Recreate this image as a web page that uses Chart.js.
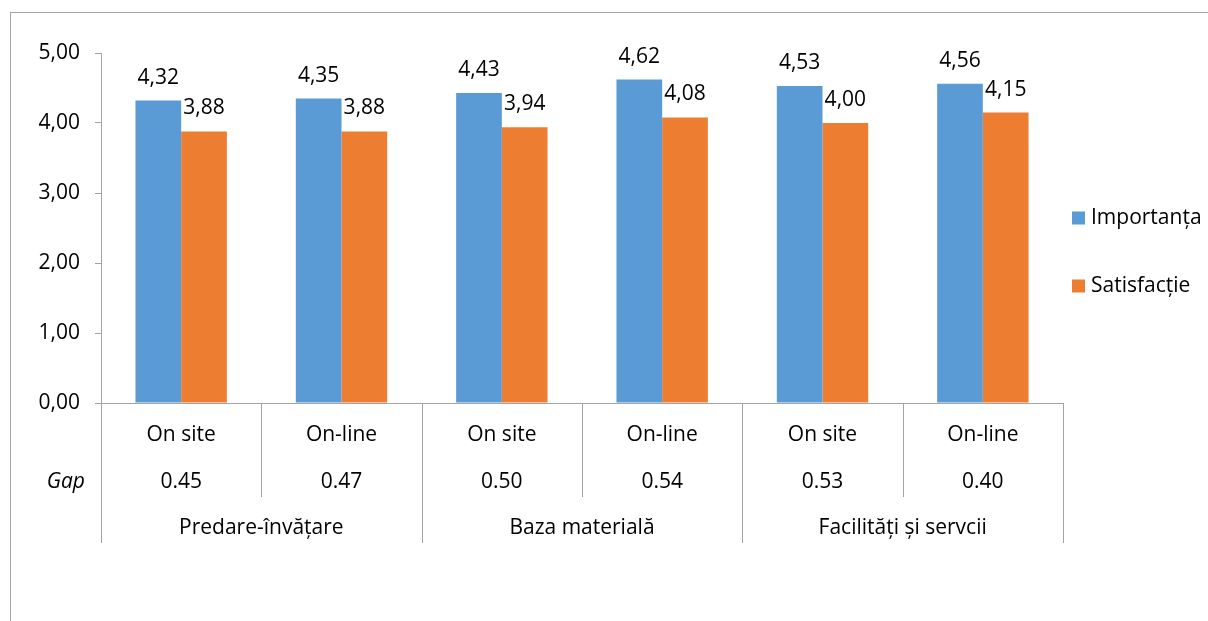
<!DOCTYPE html>
<html lang="ro">
<head>
<meta charset="utf-8">
<title>Importanța și satisfacția</title>
<script src="https://cdn.jsdelivr.net/npm/chart.js@4/dist/chart.umd.min.js"></script>
<style>
  html, body { margin: 0; padding: 0; background: #fff; overflow: hidden; }
  .frame {
    position: absolute; left: 10px; top: 12px; width: 1400px; height: 800px;
    border: 1px solid #a3a3a3; box-sizing: border-box;
  }
  #chart { position: absolute; left: 0; top: 0; }
</style>
</head>
<body>
<div class="frame"></div>
<canvas id="chart" width="1208" height="621"></canvas>
<script>
// Categories: survey mode per domain, with the gap between the two scores
const modes = ['On site', 'On-line', 'On site', 'On-line', 'On site', 'On-line'];
const gapValues = ['0.45', '0.47', '0.50', '0.54', '0.53', '0.40'];
const domains = ['Predare-învățare', 'Baza materială', 'Facilități și servcii'];

// Series
const importanta = [4.32, 4.35, 4.43, 4.62, 4.53, 4.56];
const satisfactie = [3.88, 3.88, 3.94, 4.08, 4.00, 4.15];
const seriesNames = ['Importanța', 'Satisfacție'];

// Value axis
const yTicks = [0, 1, 2, 3, 4, 5];

const FONT = '"Open Sans", "DejaVu Sans", sans-serif';
const FONT_SIZE = 21;
const AXIS_GRAY = '#a3a3a3';
const BLUE = '#5b9bd5';
const ORANGE = '#ed7d31';

const fmt = v => Number(v).toFixed(2).replace('.', ',');

Chart.defaults.font.family = FONT;
Chart.defaults.font.size = FONT_SIZE;
Chart.defaults.color = '#000';

// Value labels above each bar
const valueLabels = {
  id: 'valueLabels',
  afterDatasetsDraw(chart) {
    const ctx = chart.ctx;
    ctx.save();
    ctx.font = FONT_SIZE + 'px ' + FONT;
    ctx.fillStyle = '#000';
    ctx.textAlign = 'center';
    ctx.textBaseline = 'alphabetic';
    chart.data.datasets.forEach((ds, di) => {
      const meta = chart.getDatasetMeta(di);
      meta.data.forEach((el, i) => {
        ctx.fillText(fmt(ds.data[i]), el.x, el.y - 17);
      });
    });
    ctx.restore();
  }
};

// Category separators, domain row, "Gap" row title and the legend
const axisDecor = {
  id: 'axisDecor',
  afterDraw(chart) {
    const ctx = chart.ctx;
    const xs = chart.scales.x;
    const area = chart.chartArea;
    const n = modes.length;
    const half = (xs.getPixelForValue(1) - xs.getPixelForValue(0)) / 2;
    const axisY = area.bottom;
    const shortEnd = axisY + 94;
    const longEnd = axisY + 140;

    ctx.save();
    ctx.strokeStyle = AXIS_GRAY;
    ctx.lineWidth = 1;
    for (let i = 0; i <= n; i++) {
      const x = Math.round((i < n ? xs.getPixelForValue(i) - half : xs.getPixelForValue(n - 1) + half)) + 0.5;
      ctx.beginPath();
      ctx.moveTo(x, axisY);
      ctx.lineTo(x, i % 2 === 0 ? longEnd : shortEnd);
      ctx.stroke();
    }

    ctx.fillStyle = '#000';
    ctx.textBaseline = 'middle';
    ctx.textAlign = 'center';
    ctx.font = FONT_SIZE + 'px ' + FONT;
    domains.forEach((d, k) => {
      const cx = (xs.getPixelForValue(2 * k) + xs.getPixelForValue(2 * k + 1)) / 2;
      ctx.fillText(d, cx, axisY + 125);
    });

    ctx.textAlign = 'right';
    ctx.font = 'italic ' + FONT_SIZE + 'px ' + FONT;
    ctx.fillText('Gap', area.left - 16, axisY + 79);

    // legend
    ctx.font = FONT_SIZE + 'px ' + FONT;
    ctx.textAlign = 'left';
    const legendX = area.right + 9;
    const legendRows = [218, 286];
    chart.data.datasets.forEach((ds, di) => {
      const cy = legendRows[di];
      ctx.fillStyle = ds.backgroundColor;
      ctx.fillRect(legendX, cy - 6.5, 13, 13);
      ctx.fillStyle = '#000';
      ctx.fillText(ds.label, legendX + 19, cy);
    });
    ctx.restore();
  }
};

new Chart(document.getElementById('chart'), {
  type: 'bar',
  data: {
    labels: modes.map((m, i) => [m, gapValues[i]]),
    datasets: [
      { label: seriesNames[0], data: importanta, backgroundColor: BLUE,
        categoryPercentage: 0.57, barPercentage: 1.0 },
      { label: seriesNames[1], data: satisfactie, backgroundColor: ORANGE,
        categoryPercentage: 0.57, barPercentage: 1.0 }
    ]
  },
  options: {
    responsive: false,
    animation: false,
    devicePixelRatio: 1,
    layout: { padding: { left: 0, top: 53, right: 145, bottom: 0 } },
    plugins: {
      legend: { display: false },
      tooltip: { enabled: false }
    },
    scales: {
      x: {
        grid: { display: true, drawOnChartArea: false, drawTicks: false, offset: true, color: AXIS_GRAY },
        border: { display: true, color: AXIS_GRAY, width: 1 },
        ticks: {
          autoSkip: false, maxRotation: 0, minRotation: 0,
          padding: 8.5,
          font: { size: FONT_SIZE, lineHeight: '47px' },
          color: '#000'
        },
        afterFit(scale) { scale.height = 621 - 403; }
      },
      y: {
        min: yTicks[0],
        max: yTicks[yTicks.length - 1],
        afterBuildTicks(scale) { scale.ticks = yTicks.map(v => ({ value: v })); },
        grid: { display: true, drawOnChartArea: false, drawTicks: true, tickLength: 6, color: AXIS_GRAY },
        border: { display: true, color: AXIS_GRAY, width: 1 },
        ticks: {
          padding: 15,
          color: '#000',
          callback: v => fmt(v)
        },
        afterFit(scale) { scale.width = 101; }
      }
    }
  },
  plugins: [valueLabels, axisDecor]
});
</script>
</body>
</html>
